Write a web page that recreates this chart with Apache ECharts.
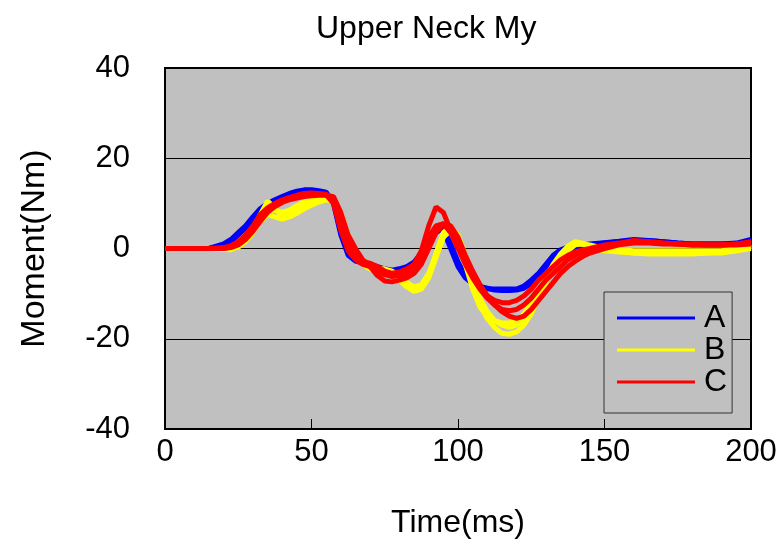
<!DOCTYPE html>
<html>
<head>
<meta charset="utf-8">
<script src="https://cdn.jsdelivr.net/npm/echarts@6/dist/echarts.min.js"></script>
<style>html,body{margin:0;padding:0;background:#fff}#c{width:780px;height:545px}</style>
</head>
<body>
<div id="c"></div>
<script>
// Time (ms)
const time = [0,5,10,15,
  20,22.5,25,27.5,30,32.5,35,37.5,40,42.5,
  45,47.5,50,52.5,55,57.5,60,62.5,65,67.5,
  70,72.5,75,77.5,80,82.5,85,87.5,90,92.5,
  95,97.5,100,102.5,105,107.5,110,112.5,115,117.5,
  120,122.5,125,127.5,130,132.5,135,137.5,140,142.5,
  145,150,155,160,165,170,175,180,185,190,195,200];
// Group A (blue) trials
const A1 = [0,0,0,0,
  1,2,3.5,5,7,8.8,10,10.8,11.5,12.2,
  12.7,13,13,12.8,12.5,10,3,-1.5,-2.8,-3.2,
  -3.5,-4,-4.5,-4.8,-4.5,-4,-3,-1,2,4.5,
  4,0,-4,-6.5,-7.8,-8.6,-8.9,-9,-9,-9,
  -9,-8.3,-7,-5.5,-3.5,-1.5,-0.3,0.3,0.6,0.8,
  1,1.3,1.6,2,1.8,1.5,1.2,1,1,1,1.2,2];
const A2 = [0,0,0,0,
  0.6,1.5,3,4.5,6.5,8.3,9.5,10.5,11.2,12,
  12.5,12.8,12.8,12.6,12.3,10.5,4,-1,-2.5,-3.3,
  -3.8,-4.5,-5,-5.3,-5,-4.3,-3.5,-1.5,1.5,3.5,
  4.5,1,-3,-6,-7.5,-8.4,-8.8,-9.2,-9.3,-9.3,
  -9.2,-8.8,-7.8,-6,-4,-2.2,-1,-0.3,0.3,0.6,
  0.8,1.2,1.5,1.8,1.8,1.5,1.2,1,1,1,1,1.8];
// Group B (yellow) trials
const B1 = [0,0,0,0,
  -0.2,-0.3,0.5,1.8,4,7.5,10.5,9,7,7.5,
  8.5,9.5,10.2,10.8,11,10.5,7,2,-1.5,-3.5,
  -4.5,-5,-5.2,-5.5,-6.5,-8,-9,-8.5,-6,-1,
  3.5,5,2.5,-2.5,-8,-12.5,-15.5,-17.5,-18.8,-19,
  -18.5,-17,-14.5,-11,-7.5,-4.5,-2,0,1.2,1,
  0.3,-0.5,-0.8,-1,-1.2,-1.2,-1.2,-1.2,-1,-1,-0.5,0.5];
const B2 = [0,0,0,0,
  0,0,0.3,1.5,3.5,6,7.5,7,6.5,7,
  7.8,8.8,9.6,10.3,10.8,10.5,8,3,-1,-3,
  -4,-4.5,-4.5,-5,-6,-7.5,-8.5,-8,-5.5,-1.5,
  2.5,4.5,3,-1.5,-6.5,-11,-14,-16,-17,-17.5,
  -17,-15.5,-13,-10,-6.5,-3.5,-1.2,0.5,1.5,1.2,
  0.5,0,-0.3,-0.5,-0.5,-0.5,-0.5,-0.5,-0.5,-0.5,0,1];
const B3 = [0,0,0,0,
  0,0.3,1,2.5,4.5,7,8.5,8.5,8,8.5,
  9.5,10.3,10.8,11.2,11.5,11,6.5,1.5,-1.5,-3.5,
  -4.5,-5,-5.5,-6,-7,-8.5,-9.5,-9,-6.5,-2,
  2.5,4,1,-3.5,-9,-13,-15,-16,-16.5,-16.5,
  -16,-14.5,-12,-9.5,-7,-4.5,-2.5,-0.5,0.8,1,
  0.8,0,-0.5,-1,-1,-1,-1,-1,-1,-0.8,-0.5,0];
// Group C (red) trials
const C1 = [0,0,0,0,
  0.2,0.6,1.5,3,5,7.5,9,10,10.8,11.3,
  11.6,11.9,12,12,11.9,10,4,-0.5,-2.5,-3.5,
  -4,-5,-5.8,-6.2,-6,-5.5,-4.5,-2,2.5,5,
  5.5,3.5,0,-3.5,-6.5,-9,-11,-12.5,-13.5,-13.8,
  -13.5,-12.5,-11,-9,-7,-5.5,-4,-2.5,-1.5,-0.8,
  -0.3,0.5,1,1.5,1.5,1.2,1,0.8,0.8,0.8,1,1.2];
const C2 = [0,0,0,0,
  0,0.5,1.2,2.5,4.5,7,8.5,9.8,10.5,11.2,
  11.8,12.2,12.3,12.2,12,11,6.5,1.5,-1.5,-2.8,
  -3.3,-4,-5,-5.5,-5.2,-4.5,-3.5,-0.5,5,9.2,
  8,4,0.5,-3,-6,-8.5,-10.5,-11.5,-12,-12,
  -11.5,-10.5,-9,-7,-5.5,-4,-2.5,-1.5,-0.8,-0.3,
  0,0.8,1.2,1.8,1.5,1.2,1,1,0.8,0.8,1,1.5];
const C3 = [0,0,0,0,
  0,0.2,0.8,2,3.8,6,8,9.3,10.2,10.8,
  11.2,11.5,11.7,11.8,11.8,11.5,8,3,0,-2.5,
  -4,-6,-7.2,-7.4,-7,-6.5,-5.5,-3.5,0,3.5,
  5.5,5,2.5,-1.5,-5,-8,-10.5,-12.5,-14,-15,
  -15.5,-15,-13.5,-11.5,-9.5,-7.5,-5.5,-4,-2.8,-1.8,
  -1,0,0.8,1.2,1.2,1,1,0.8,0.8,0.8,0.8,1];

const xTicks = [0,50,100,150,200];
const yTicks = [-40,-20,0,20,40];

const groups = [
  {name:'A', color:'#0000ff', trials:[A1,A2]},
  {name:'B', color:'#ffff00', trials:[B1,B2,B3]},
  {name:'C', color:'#ff0000', trials:[C1,C2,C3]}
];

const series = [];
groups.forEach(g => {
  g.trials.forEach(tr => {
    series.push({
      name: g.name, type: 'line', xAxisIndex: 0, yAxisIndex: 0,
      data: time.map((t,i) => [t, tr[i]]),
      symbol: 'none', color: g.color,
      lineStyle: {color: g.color, width: 5},
      animation: false
    });
  });
});

const font = "'Liberation Sans', Arial, sans-serif";
const chart = echarts.init(document.getElementById('c'));
chart.setOption({
  animation: false,
  title: {text: 'Upper Neck My', left: 311, top: 8,
    textStyle: {fontFamily: font, fontSize: 32, fontWeight: 'normal', color: '#000'}},
  grid: {left: 165, right: 29, top: 68, bottom: 116, show: true,
    backgroundColor: '#c0c0c0', borderColor: '#000', borderWidth: 2},
  legend: {
    data: ['A','B','C'], orient: 'vertical', left: 604, top: 292,
    padding: [10, 5, 15, 13], itemGap: 0, itemWidth: 78, itemHeight: 3,
    icon: 'rect',
    borderColor: '#333', borderWidth: 1, backgroundColor: '#c0c0c0',
    textStyle: {fontFamily: font, fontSize: 32, lineHeight: 30, color: '#000', padding: [0,0,0,4]}
  },
  xAxis: [{
    type: 'value', min: 0, max: 200, interval: 50,
    name: 'Time(ms)', nameLocation: 'middle', nameGap: 78,
    nameTextStyle: {fontFamily: font, fontSize: 32, color: '#000'},
    axisLine: {show: false}, axisTick: {show: false}, splitLine: {show: false},
    axisLabel: {fontFamily: font, fontSize: 31, color: '#000', margin: 8}
  }, {
    type: 'value', min: 0, max: 200, interval: 50, position: 'bottom',
    axisLine: {show: true, onZero: true, lineStyle: {color: '#000', width: 1}},
    axisTick: {show: true, inside: true, length: 10, lineStyle: {color: '#000'}},
    axisLabel: {show: false}, splitLine: {show: false}
  }],
  yAxis: {
    type: 'value', min: -40, max: 40, interval: 20,
    name: 'Moment(Nm)', nameLocation: 'middle', nameGap: 113,
    nameTextStyle: {fontFamily: font, fontSize: 34, color: '#000'},
    axisLine: {show: false}, axisTick: {show: false},
    splitLine: {show: true, lineStyle: {color: '#000', width: 1}},
    axisLabel: {fontFamily: font, fontSize: 31, color: '#000', margin: 35}
  },
  series: series
});
</script>
</body>
</html>
